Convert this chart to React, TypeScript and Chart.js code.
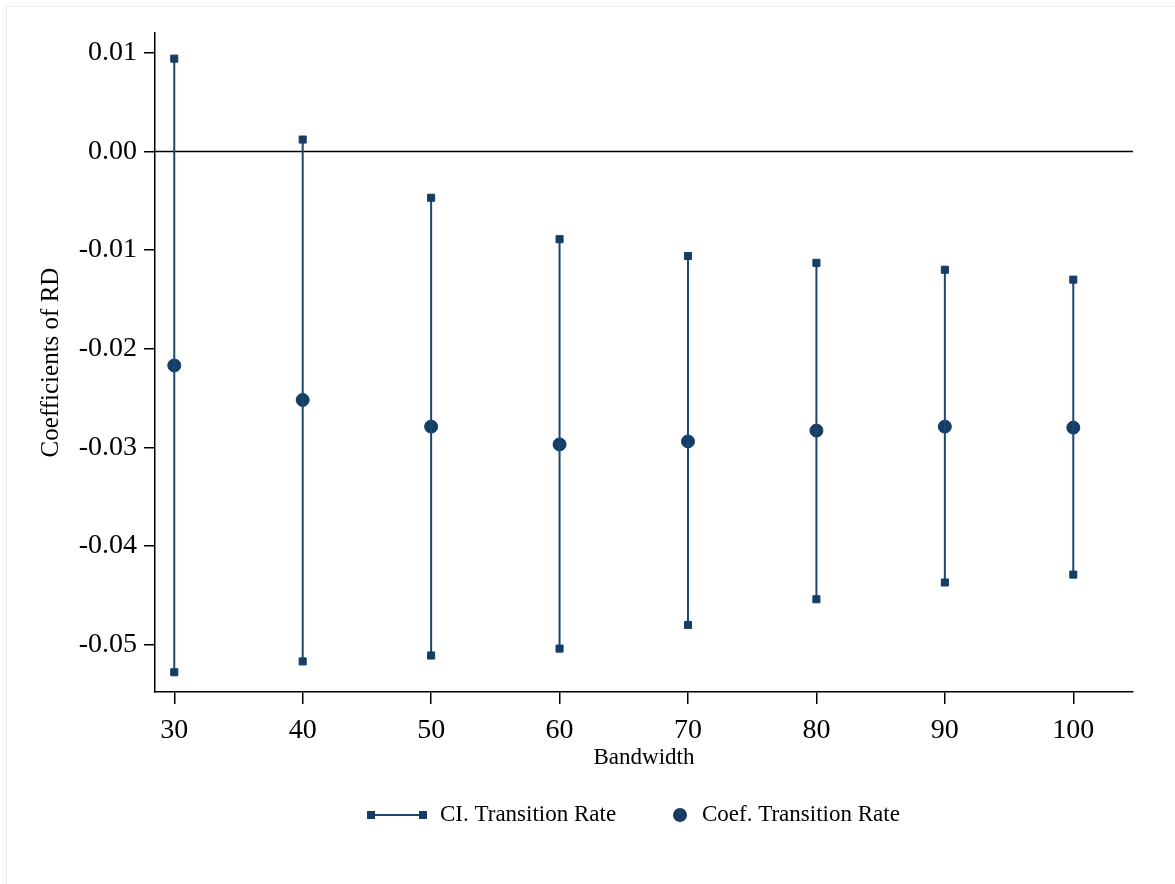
import React, { useEffect, useRef } from "react";
import { Chart, registerables } from "chart.js";

Chart.register(...registerables);

const bandwidths = [30, 40, 50, 60, 70, 80, 90, 100];
const coefficients = [-0.0217, -0.0252, -0.0279, -0.0297, -0.0294, -0.0283, -0.0279, -0.028];
const ciUpper = [0.0094, 0.0012, -0.0047, -0.0089, -0.0106, -0.0113, -0.012, -0.013];
const ciLower = [-0.0528, -0.0517, -0.0511, -0.0504, -0.048, -0.0454, -0.0437, -0.0429];
const xTicks = [30, 40, 50, 60, 70, 80, 90, 100];
const yTicks = [0.01, 0, -0.01, -0.02, -0.03, -0.04, -0.05];
const legendLabels = ["CI. Transition Rate", "Coef. Transition Rate"];

const FONT = "'Liberation Serif', 'Times New Roman', serif";
const LINE_COLOR = "#1a476f";
const MARK_COLOR = "#163d66";

export default function App() {
  const ref = useRef<HTMLCanvasElement | null>(null);

  useEffect(() => {
    if (!ref.current) return;
    const ciData: { x: number; y: number | null }[] = [];
    bandwidths.forEach((b, i) => {
      ciData.push({ x: b, y: ciUpper[i] });
      ciData.push({ x: b, y: ciLower[i] });
      ciData.push({ x: b, y: null });
    });
    const coefData = bandwidths.map((b, i) => ({ x: b, y: coefficients[i] }));

    const decor = {
      id: "decor",
      beforeDatasetsDraw(chart: any) {
        const { ctx, chartArea, scales } = chart;
        const y0 = scales.y.getPixelForValue(0);
        ctx.save();
        ctx.strokeStyle = "#000";
        ctx.lineWidth = 1.5;
        ctx.beginPath();
        ctx.moveTo(chartArea.left, y0);
        ctx.lineTo(chartArea.right, y0);
        ctx.stroke();
        ctx.restore();
      },
      afterDraw(chart: any) {
        const { ctx } = chart;
        ctx.save();
        // faint outer frame
        ctx.strokeStyle = "#ececec";
        ctx.lineWidth = 1;
        ctx.beginPath();
        ctx.moveTo(6.5, 884);
        ctx.lineTo(6.5, 6.5);
        ctx.lineTo(1175, 6.5);
        ctx.stroke();

        // legend
        const ly = 815;
        ctx.strokeStyle = LINE_COLOR;
        ctx.lineWidth = 2;
        ctx.beginPath();
        ctx.moveTo(371, ly);
        ctx.lineTo(423, ly);
        ctx.stroke();
        ctx.fillStyle = MARK_COLOR;
        ctx.fillRect(367, ly - 4, 8, 8);
        ctx.fillRect(419, ly - 4, 8, 8);
        ctx.beginPath();
        ctx.arc(680, ly, 7, 0, Math.PI * 2);
        ctx.fill();
        ctx.fillStyle = "#000";
        ctx.font = `23px ${FONT}`;
        ctx.textBaseline = "middle";
        ctx.textAlign = "left";
        ctx.fillText(legendLabels[0], 440, ly);
        ctx.fillText(legendLabels[1], 702, ly);
        ctx.restore();
      },
    };

    const chart = new Chart(ref.current, {
      type: "line",
      data: {
        datasets: [
          {
            label: legendLabels[0],
            data: ciData as any,
            borderColor: LINE_COLOR,
            borderWidth: 2,
            pointStyle: "rect",
            pointRadius: 5,
            pointBorderWidth: 1,
            pointBackgroundColor: MARK_COLOR,
            pointBorderColor: MARK_COLOR,
            spanGaps: false,
            showLine: true,
            fill: false,
          },
          {
            label: legendLabels[1],
            data: coefData,
            showLine: false,
            pointStyle: "circle",
            pointRadius: 6.5,
            pointBorderWidth: 1,
            pointBackgroundColor: MARK_COLOR,
            pointBorderColor: MARK_COLOR,
          },
        ],
      },
      options: {
        animation: false,
        responsive: false,
        maintainAspectRatio: false,
        layout: { padding: { top: 33, right: 42, left: 0, bottom: 110 } },
        plugins: { legend: { display: false }, tooltip: { enabled: false } },
        scales: {
          x: {
            type: "linear",
            min: 28.5,
            max: 104.65,
            afterBuildTicks: (s: any) => {
              s.ticks = xTicks.map((v) => ({ value: v }));
            },
            afterFit: (s: any) => {
              s.height = 82;
            },
            grid: { drawOnChartArea: false, drawTicks: true, tickLength: 12, color: "#000", lineWidth: 1.5 },
            border: { display: true, color: "#000", width: 1.5 },
            ticks: {
              font: { family: FONT, size: 28 },
              color: "#000",
              padding: 10,
              maxRotation: 0,
              autoSkip: false,
              callback: (v: any) => String(v),
            },
            title: {
              display: true,
              text: "Bandwidth",
              font: { family: FONT, size: 23 },
              color: "#000",
              padding: { top: 0, bottom: 2 },
            },
          },
          y: {
            type: "linear",
            min: -0.0548,
            max: 0.012,
            afterBuildTicks: (s: any) => {
              s.ticks = yTicks.map((v) => ({ value: v }));
            },
            afterFit: (s: any) => {
              s.width = 155;
            },
            grid: { drawOnChartArea: false, drawTicks: true, tickLength: 11, color: "#000", lineWidth: 1.5 },
            border: { display: true, color: "#000", width: 1.5 },
            ticks: {
              font: { family: FONT, size: 28 },
              color: "#000",
              padding: 7,
              autoSkip: false,
              callback: (v: any) => Number(v).toFixed(2),
            },
            title: {
              display: true,
              text: "Coefficients of RD",
              font: { family: FONT, size: 25 },
              color: "#000",
              padding: { top: 36, bottom: 0 },
            },
          },
        },
      },
      plugins: [decor],
    });
    return () => chart.destroy();
  }, []);

  return (
    <div style={{ position: "fixed", left: 0, top: 0, width: 1175, height: 884, background: "#fff" }}>
      <canvas ref={ref} width={1175} height={884} style={{ display: "block" }} />
    </div>
  );
}
